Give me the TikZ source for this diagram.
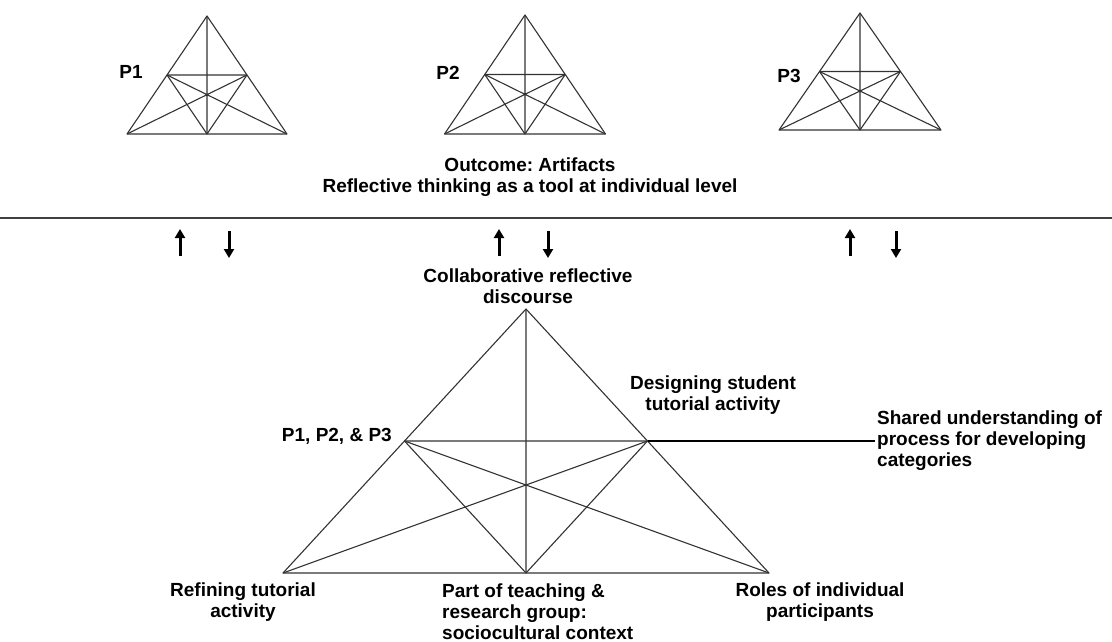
\documentclass[tikz,border=0pt]{standalone}
\usepackage{fontspec}
\setmainfont{Liberation Sans}
\usetikzlibrary{positioning,calc,arrows.meta}
\frenchspacing

\tikzset{
	triline/.style={black!80,line width=1.1pt,line join=round},
	lbl/.style={font=\fontsize{19}{21}\selectfont\bfseries,inner sep=2pt,align=center},
	flow/.style={line width=3pt,-{Triangle[width=10pt,length=9pt]}},
}

% triangle with its medians and midpoint triangle
\newcommand{\medtri}[5]{%
	\coordinate (#1a) at (#2,#3);
	\coordinate (#1l) at ({#2-#5},#4);
	\coordinate (#1r) at ({#2+#5},#4);
	\coordinate (#1b) at (#2,#4);
	\coordinate (#1ml) at ($(#1a)!.5!(#1l)$);
	\coordinate (#1mr) at ($(#1a)!.5!(#1r)$);
	\draw[triline] (#1a) -- (#1l) -- (#1r) -- cycle;
	\draw[triline] (#1a) -- (#1b) (#1ml) -- (#1r) (#1mr) -- (#1l);
	\draw[triline] (#1ml) -- (#1mr) -- (#1b) -- cycle;
}

\begin{document}
\begin{tikzpicture}[x=1pt,y=-1pt]
	\useasboundingbox (0,0) rectangle (1112,642);
	% Individual triangles
	\medtri{A}{207}{16}{134}{80}
	\medtri{B}{525}{15}{134}{80.5}
	\medtri{C}{860}{13}{130}{81}
	\node[lbl,anchor=base] (p1) at (131,78) {P1};
	\node[lbl,anchor=base] (p2) at (448,80) {P2};
	\node[lbl,anchor=base] (p3) at (789,82) {P3};
	\node[lbl,anchor=base] (outcome) at (530,192) {Outcome: Artifacts\\Reflective thinking as a tool at individual level};
	\draw[black!75,line width=1.4pt] (0,218) -- (1112,218);
	% up and down arrows
	\foreach \u/\d in {180/229,499/548,850/896} {
		\draw[flow] (\u,256) -- (\u,229);
		\draw[flow] (\d,231) -- (\d,258);
	}
	% Group triangle
	\medtri{T}{526}{309}{573}{243}
	\node[lbl,anchor=base] (collab) at (528,303) {Collaborative reflective\\discourse};
	\node[lbl,anchor=base] (design) at (713,410) {Designing student\\tutorial activity};
	\node[lbl,anchor=base east] (all) at (394,441) {P1, P2, \& P3};
	\node[lbl,align=left,anchor=base west] (shared) at (875,466) {Shared understanding of\\process for developing\\categories};
	\node[lbl,anchor=base] (refine) at (243,617) {Refining tutorial\\activity};
	\node[lbl,align=left,anchor=base west] (part) at (440,639) {Part of teaching \&\\research group:\\sociocultural context};
	\node[lbl,anchor=base] (roles) at (820,617) {Roles of individual\\participants};
	\draw[black,line width=1.1pt] (Tmr) -- (Tmr -| shared.west);
\end{tikzpicture}
\end{document}
